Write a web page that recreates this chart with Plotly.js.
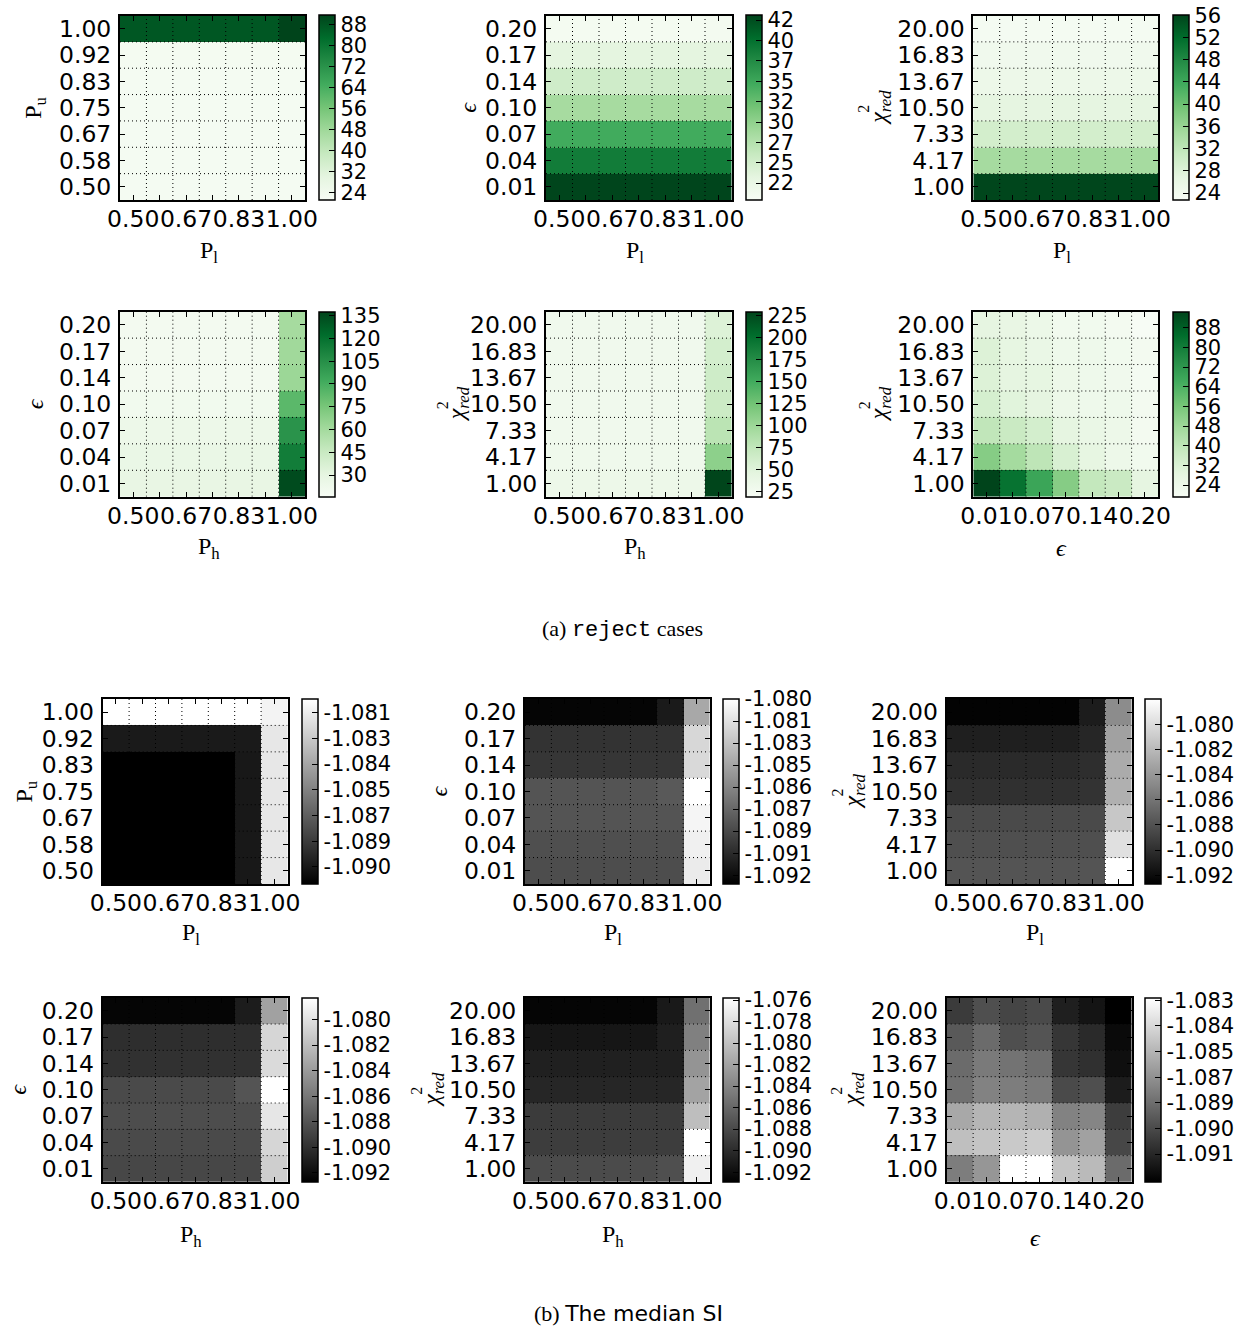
<!DOCTYPE html>
<html><head><meta charset="utf-8">
<script src="https://cdn.plot.ly/plotly-3.0.1.min.js"></script>
<style>body{margin:0;background:#fff}</style>
</head><body><div id="chart" style="width:1257px;height:1330px"></div>
<script>
// ---------- tick label arrays ----------
const P_LABELS   = ['0.50','0.58','0.67','0.75','0.83','0.92','1.00'];
const EPS_LABELS = ['0.01','0.04','0.07','0.10','0.14','0.17','0.20'];
const CHI_LABELS = ['1.00','4.17','7.33','10.50','13.67','16.83','20.00'];

// ---------- data (rows bottom -> top, columns left -> right) ----------
// (a) reject cases
const rejectPuPl = [
  [22.5,22.5,22.5,22.5,22.5,22.5,22.5],
  [22.5,22.5,22.5,22.5,22.5,22.5,22.5],
  [22.5,22.5,22.5,22.5,22.5,22.5,22.5],
  [22.5,22.5,22.5,22.5,22.5,22.5,22.5],
  [22.5,22.5,22.5,22.5,22.5,22.5,22.5],
  [22.8,22.8,22.8,22.8,22.8,22.8,22.8],
  [87.5,87.5,87.5,87.5,87.5,87.5,91.5]
];
const rejectEpsPl = [
  [43.0,43.0,43.0,43.0,43.0,43.0,43.0],
  [38.8,38.8,38.8,38.8,38.8,38.8,38.8],
  [34.6,34.6,34.6,34.6,34.6,34.6,34.6],
  [28.5,28.5,28.5,28.5,28.5,28.5,28.5],
  [25.3,25.3,25.3,25.3,25.3,25.3,25.3],
  [23.2,23.2,23.2,23.2,23.2,23.2,23.2],
  [20.9,20.9,20.9,20.9,20.9,20.9,21.1]
];
const rejectChiPl = [
  [55.8,55.8,55.8,55.8,55.8,55.8,55.8],
  [34.6,34.6,34.6,34.6,34.6,34.6,34.6],
  [29.4,29.4,29.4,29.4,29.4,29.4,29.4],
  [26.6,26.6,26.6,26.6,26.6,26.6,26.6],
  [25.0,25.0,25.0,25.0,25.0,25.0,25.0],
  [24.3,24.3,24.3,24.3,24.3,24.3,24.3],
  [23.3,23.3,23.3,23.3,23.3,23.3,23.3]
];
const rejectEpsPh = [
  [27.9,27.9,27.9,27.9,27.9,27.9,135.0],
  [26.7,26.7,26.7,26.7,26.7,26.7,114.4],
  [24.2,24.2,24.2,24.2,24.2,24.2,103.5],
  [20.6,20.6,20.6,20.6,20.6,20.6,84.0],
  [19.4,19.4,19.4,19.4,19.4,19.4,63.2],
  [19.4,19.4,19.4,19.4,19.4,19.4,61.4],
  [19.4,19.4,19.4,19.4,19.4,19.4,59.6]
];
const rejectChiPh = [
  [34,34,34,34,34,34,229],
  [31,31,31,31,31,31,109.7],
  [29,29,29,29,29,29,80.3],
  [29,29,29,29,29,29,67.6],
  [29,29,29,29,29,29,65.5],
  [29,29,29,29,29,29,61.3],
  [29,29,29,29,29,29,52.9]
];
const rejectChiEps = [
  [94.5,83.2,68.2,53.1,38.9,37.3,28.3],
  [53.1,46.4,40.4,32.8,27.6,24.6,22.3],
  [39.6,37.3,34.3,28.3,26.1,24.6,21.6],
  [33.6,29.8,28.3,24.6,23.8,23.8,21.6],
  [31.3,28.3,27.6,24.6,23.8,23.1,20.8],
  [31.3,27.6,26.1,23.8,23.8,22.3,21.6],
  [28.3,26.8,25.3,22.3,22.3,21.6,19.3]
];
// (b) median SI
const siPuPl = [
  [-1.0910,-1.0910,-1.0910,-1.0910,-1.0910,-1.0900,-1.0812],
  [-1.0910,-1.0910,-1.0910,-1.0910,-1.0910,-1.0900,-1.0812],
  [-1.0910,-1.0910,-1.0910,-1.0910,-1.0910,-1.0900,-1.0812],
  [-1.0910,-1.0910,-1.0910,-1.0910,-1.0910,-1.0900,-1.0812],
  [-1.0910,-1.0910,-1.0910,-1.0910,-1.0910,-1.0900,-1.0812],
  [-1.0899,-1.0899,-1.0899,-1.0899,-1.0899,-1.0899,-1.0812],
  [-1.0802,-1.0802,-1.0802,-1.0802,-1.0802,-1.0802,-1.0807]
];
const siEpsPl = [
  [-1.08882,-1.08882,-1.08882,-1.08882,-1.08882,-1.08882,-1.08101],
  [-1.08869,-1.08869,-1.08869,-1.08869,-1.08869,-1.08869,-1.08076],
  [-1.08844,-1.08844,-1.08844,-1.08844,-1.08844,-1.08844,-1.08050],
  [-1.08844,-1.08844,-1.08844,-1.08844,-1.08844,-1.08819,-1.08000],
  [-1.08995,-1.08995,-1.08995,-1.08995,-1.08995,-1.08995,-1.08189],
  [-1.09008,-1.09008,-1.09008,-1.09008,-1.09008,-1.09008,-1.08200],
  [-1.09235,-1.09235,-1.09235,-1.09235,-1.09235,-1.09134,-1.08428]
];
const siChiPl = [
  [-1.08785,-1.08785,-1.08785,-1.08785,-1.08785,-1.08785,-1.07800],
  [-1.08814,-1.08814,-1.08814,-1.08814,-1.08814,-1.08814,-1.07976],
  [-1.08844,-1.08844,-1.08844,-1.08844,-1.08844,-1.08844,-1.08123],
  [-1.08991,-1.08991,-1.08991,-1.08991,-1.08991,-1.08976,-1.08256],
  [-1.09027,-1.09027,-1.09027,-1.09027,-1.09027,-1.09005,-1.08285],
  [-1.09094,-1.09094,-1.09094,-1.09094,-1.09094,-1.09050,-1.08344],
  [-1.09255,-1.09255,-1.09255,-1.09255,-1.09255,-1.09108,-1.08462]
];
const siEpsPh = [
  [-1.08867,-1.08867,-1.08867,-1.08867,-1.08867,-1.08867,-1.08104],
  [-1.08852,-1.08852,-1.08852,-1.08852,-1.08852,-1.08852,-1.08060],
  [-1.08838,-1.08838,-1.08838,-1.08838,-1.08838,-1.08838,-1.07974],
  [-1.08852,-1.08852,-1.08852,-1.08852,-1.08852,-1.08795,-1.07830],
  [-1.08996,-1.08996,-1.08996,-1.08996,-1.08996,-1.08996,-1.08039],
  [-1.09011,-1.09011,-1.09011,-1.09011,-1.09011,-1.09011,-1.08060],
  [-1.09241,-1.09241,-1.09241,-1.09241,-1.09241,-1.09112,-1.08363]
];
const siChiPh = [
  [-1.08790,-1.08790,-1.08790,-1.08790,-1.08790,-1.08760,-1.07683],
  [-1.08880,-1.08880,-1.08880,-1.08880,-1.08880,-1.08880,-1.07580],
  [-1.08897,-1.08897,-1.08897,-1.08897,-1.08897,-1.08897,-1.08016],
  [-1.09034,-1.09034,-1.09034,-1.09034,-1.09034,-1.09034,-1.08196],
  [-1.09076,-1.09076,-1.09076,-1.09076,-1.09076,-1.09076,-1.08298],
  [-1.09143,-1.09143,-1.09143,-1.09143,-1.09143,-1.09085,-1.08435],
  [-1.09256,-1.09256,-1.09256,-1.09256,-1.09256,-1.09119,-1.08538]
];
const siChiEps = [
  [-1.08776,-1.08681,-1.08289,-1.08289,-1.08509,-1.08547,-1.08843],
  [-1.08528,-1.08509,-1.08490,-1.08480,-1.08690,-1.08642,-1.08977],
  [-1.08614,-1.08566,-1.08566,-1.08585,-1.08757,-1.08747,-1.09015],
  [-1.08824,-1.08757,-1.08776,-1.08786,-1.08967,-1.08948,-1.09139],
  [-1.08843,-1.08786,-1.08814,-1.08833,-1.09043,-1.09063,-1.09187],
  [-1.08910,-1.08843,-1.08948,-1.08929,-1.09043,-1.09086,-1.09206],
  [-1.09024,-1.08948,-1.08986,-1.08967,-1.09129,-1.09168,-1.09244]
];

// ---------- colorbar ticks ----------
const cbA1 = {v:[24,32,40,48,56,64,72,80,88], t:['24','32','40','48','56','64','72','80','88']};
const cbA2 = {v:[22.5,25,27.5,30,32.5,35,37.5,40,42.5], t:['22','25','27','30','32','35','37','40','42']};
const cbA3 = {v:[24,28,32,36,40,44,48,52,56], t:['24','28','32','36','40','44','48','52','56']};
const cbA4 = {v:[30,45,60,75,90,105,120,135], t:['30','45','60','75','90','105','120','135']};
const cbA5 = {v:[25,50,75,100,125,150,175,200,225], t:['25','50','75','100','125','150','175','200','225']};
const cbA6 = {v:[24,32,40,48,56,64,72,80,88], t:['24','32','40','48','56','64','72','80','88']};
const cbB1 = {v:[-1.0900,-1.0885,-1.0870,-1.0855,-1.0840,-1.0825,-1.0810], t:['-1.090','-1.089','-1.087','-1.085','-1.084','-1.083','-1.081']};
const cbB2 = {v:[-1.0920,-1.0905,-1.0890,-1.0875,-1.0860,-1.0845,-1.0830,-1.0815,-1.0800], t:['-1.092','-1.091','-1.089','-1.087','-1.086','-1.085','-1.083','-1.081','-1.080']};
const cbB3 = {v:[-1.092,-1.090,-1.088,-1.086,-1.084,-1.082,-1.080], t:['-1.092','-1.090','-1.088','-1.086','-1.084','-1.082','-1.080']};
const cbB4 = {v:[-1.092,-1.090,-1.088,-1.086,-1.084,-1.082,-1.080,-1.078], t:['-1.092','-1.090','-1.088','-1.086','-1.084','-1.082','-1.080','-1.078']};
const cbB5 = {v:[-1.092,-1.090,-1.088,-1.086,-1.084,-1.082,-1.080,-1.078,-1.076], t:['-1.092','-1.090','-1.088','-1.086','-1.084','-1.082','-1.080','-1.078','-1.076']};
const cbB6 = {v:[-1.09100,-1.08967,-1.08833,-1.08700,-1.08567,-1.08433,-1.08300], t:['-1.091','-1.090','-1.089','-1.087','-1.085','-1.084','-1.083']};

// ---------- styling ----------
const W = 1257, H = 1330;
const GREENS = [[0,'#f7fcf5'],[0.125,'#e5f5e0'],[0.25,'#c7e9c0'],[0.375,'#a1d99b'],[0.5,'#74c476'],[0.625,'#41ab5d'],[0.75,'#238b45'],[0.875,'#006d2c'],[1,'#00441b']];
const GRAYS = [[0,'#000000'],[1,'#ffffff']];
const TICKFONT = {family:'DejaVu Sans, Arial, sans-serif', size:23.5, color:'#000'};
const CBFONT = {family:'DejaVu Sans, Arial, sans-serif', size:21, color:'#000'};
const SERIF = 'Liberation Serif, DejaVu Serif, serif';

const T_PL = 'P<sub>l</sub>', T_PU = 'P<sub>u</sub>', T_PH = 'P<sub>h</sub>', T_EPS = '<i>ϵ</i>', T_CHI = 'CHI';

// geometry [x0,x1,y0,y1,cbx, ytitleX, xtitleY]
const panels = [
  {z:rejectPuPl,  xl:P_LABELS,   yl:P_LABELS,   xt:T_PL,  yt:T_PU,  cs:GREENS, zr:[21.2,91.5],  cb:cbA1, g:[120,305,15.5,200,319.3, 35,252]},
  {z:rejectEpsPl, xl:P_LABELS,   yl:EPS_LABELS, xt:T_PL,  yt:T_EPS, cs:GREENS, zr:[20.4,43.1],  cb:cbA2, g:[546,731.5,15.5,200,745.5, 468,252]},
  {z:rejectChiPl, xl:P_LABELS,   yl:CHI_LABELS, xt:T_PL,  yt:T_CHI, cs:GREENS, zr:[22.7,56.0],  cb:cbA3, g:[973.3,1158,15.5,200,1173.3, 880,252]},
  {z:rejectEpsPh, xl:P_LABELS,   yl:EPS_LABELS, xt:T_PH,  yt:T_EPS, cs:GREENS, zr:[15.7,137.6], cb:cbA4, g:[120,305,311.7,496.7,319.3, 35,548]},
  {z:rejectChiPh, xl:P_LABELS,   yl:CHI_LABELS, xt:T_PH,  yt:T_CHI, cs:GREENS, zr:[19.3,229.5], cb:cbA5, g:[546,731.5,311.7,496.7,745.5, 458,548]},
  {z:rejectChiEps,xl:EPS_LABELS, yl:CHI_LABELS, xt:T_EPS, yt:T_CHI, cs:GREENS, zr:[19.3,94.5],  cb:cbA6, g:[973.3,1158,311.7,496.7,1173.3, 880,548]},
  {z:siPuPl,      xl:P_LABELS,   yl:P_LABELS,   xt:T_PL,  yt:T_PU,  cs:GRAYS, zr:[-1.0910,-1.0802], cb:cbB1, g:[102.7,287.5,699,884,301.7, 25,934]},
  {z:siEpsPl,     xl:P_LABELS,   yl:EPS_LABELS, xt:T_PL,  yt:T_EPS, cs:GRAYS, zr:[-1.0926,-1.0800], cb:cbB2, g:[525,709.5,699,884,723.3, 438,934]},
  {z:siChiPl,     xl:P_LABELS,   yl:CHI_LABELS, xt:T_PL,  yt:T_CHI, cs:GRAYS, zr:[-1.0927,-1.0780], cb:cbB3, g:[946.7,1131.7,699,884,1145, 853,934]},
  {z:siEpsPh,     xl:P_LABELS,   yl:EPS_LABELS, xt:T_PH,  yt:T_EPS, cs:GRAYS, zr:[-1.0927,-1.0783], cb:cbB4, g:[102.7,287.5,997.7,1182,301.7, 18,1236]},
  {z:siChiPh,     xl:P_LABELS,   yl:CHI_LABELS, xt:T_PH,  yt:T_CHI, cs:GRAYS, zr:[-1.0929,-1.0758], cb:cbB5, g:[525,709.5,997.7,1182,723.3, 433,1236]},
  {z:siChiEps,    xl:EPS_LABELS, yl:CHI_LABELS, xt:T_EPS, yt:T_CHI, cs:GRAYS, zr:[-1.09244,-1.08288], cb:cbB6, g:[946.7,1131.7,997.7,1182,1145, 853,1238]}
];

const IDX = [0,1,2,3,4,5,6];
const EVEN = [0,2,4,6];
const traces = [], layout = {
  width:W, height:H, margin:{l:0,r:0,t:0,b:0},
  paper_bgcolor:'#fff', plot_bgcolor:'#fff', showlegend:false,
  shapes:[], annotations:[]
};
const px = v => v / W, py = v => 1 - v / H;

panels.forEach((p, i) => {
  const n = i + 1, xa = 'x' + n, ya = 'y' + n;
  const [x0,x1,y0,y1,cbx,ytx,xty] = p.g;
  traces.push({
    type:'heatmap', z:p.z, x:IDX, y:IDX, xaxis:xa, yaxis:ya,
    colorscale:p.cs, zmin:p.zr[0], zmax:p.zr[1], hoverinfo:'skip',
    colorbar:{
      x:px(cbx), xanchor:'left', xref:'paper', xpad:0, ypad:0,
      y:py((y0+y1)/2), yanchor:'middle', yref:'paper',
      len:y1-y0, lenmode:'pixels', thickness:16, thicknessmode:'pixels',
      outlinewidth:1.5, outlinecolor:'#000',
      tickmode:'array', tickvals:p.cb.v, ticktext:p.cb.t,
      ticks:'inside', ticklen:6, tickwidth:1, tickcolor:'#000',
      tickfont:CBFONT
    }
  });
  const common = {
    range:[-0.5,6.5], tickmode:'array',
    ticks:'inside', ticklen:5, tickwidth:1, tickcolor:'#000',
    showline:true, linewidth:2, linecolor:'#000', mirror:'ticks',
    showgrid:false, zeroline:false, tickfont:TICKFONT, fixedrange:true, automargin:false
  };
  layout['xaxis' + (n===1?'':n)] = Object.assign({}, common, {
    domain:[px(x0), px(x1)], anchor:ya, tickangle:0,
    tickvals:EVEN, ticktext:EVEN.map(k => p.xl[k]), ticklabelstandoff:-3,
    minor:{tickmode:'array', tickvals:IDX, ticks:'inside', ticklen:5, tickwidth:1, tickcolor:'#000', showgrid:false}
  });
  layout['yaxis' + (n===1?'':n)] = Object.assign({}, common, {
    domain:[py(y1), py(y0)], anchor:xa,
    tickvals:IDX, ticktext:p.yl, ticklabelstandoff:2
  });
  // dotted grid on cell boundaries
  for (let k = 0; k < 6; k++) {
    const b = IDX[k] + 0.5;
    layout.shapes.push({type:'line', xref:xa, yref:ya, x0:b, x1:b, y0:-0.5, y1:6.5, layer:'above', line:{color:'#000', width:1, dash:'1px,3px'}});
    layout.shapes.push({type:'line', xref:xa, yref:ya, y0:b, y1:b, x0:-0.5, x1:6.5, layer:'above', line:{color:'#000', width:1, dash:'1px,3px'}});
  }
  // axis titles
  const xtFont = {family:SERIF, size:24, color:'#000'};
  layout.annotations.push({xref:'paper', yref:'paper', x:px((x0+x1)/2 - 4), y:py(xty), text:p.xt, showarrow:false, font:xtFont, xanchor:'center', yanchor:'middle'});
  const ym = (y0+y1)/2;
  if (p.yt === T_CHI) {
    layout.annotations.push({xref:'paper', yref:'paper', x:px(ytx), y:py(ym), text:'<i>χ</i><sub><i>red</i></sub>', textangle:-90, showarrow:false, font:{family:SERIF, size:24, color:'#000'}, xanchor:'center', yanchor:'middle'});
    layout.annotations.push({xref:'paper', yref:'paper', x:px(ytx-16), y:py(ym+1), text:'2', textangle:-90, showarrow:false, font:{family:SERIF, size:16, color:'#000'}, xanchor:'center', yanchor:'middle'});
  } else {
    layout.annotations.push({xref:'paper', yref:'paper', x:px(ytx), y:py(ym), text:p.yt, textangle:-90, showarrow:false, font:{family:SERIF, size:24, color:'#000'}, xanchor:'center', yanchor:'middle'});
  }
});

// captions
layout.annotations.push({xref:'paper', yref:'paper', x:px(622), y:py(629), showarrow:false, xanchor:'center', yanchor:'middle',
  text:'(a) <span style="font-family:Liberation Mono, DejaVu Sans Mono, monospace">reject</span> cases', font:{family:SERIF, size:22, color:'#000'}});
layout.annotations.push({xref:'paper', yref:'paper', x:px(629), y:py(1313), showarrow:false, xanchor:'center', yanchor:'middle',
  text:'(b) <span style="font-family:DejaVu Sans, sans-serif">The median SI</span>', font:{family:SERIF, size:22, color:'#000'}});

Plotly.newPlot('chart', traces, layout, {staticPlot:true, displayModeBar:false});
</script>
</body></html>
